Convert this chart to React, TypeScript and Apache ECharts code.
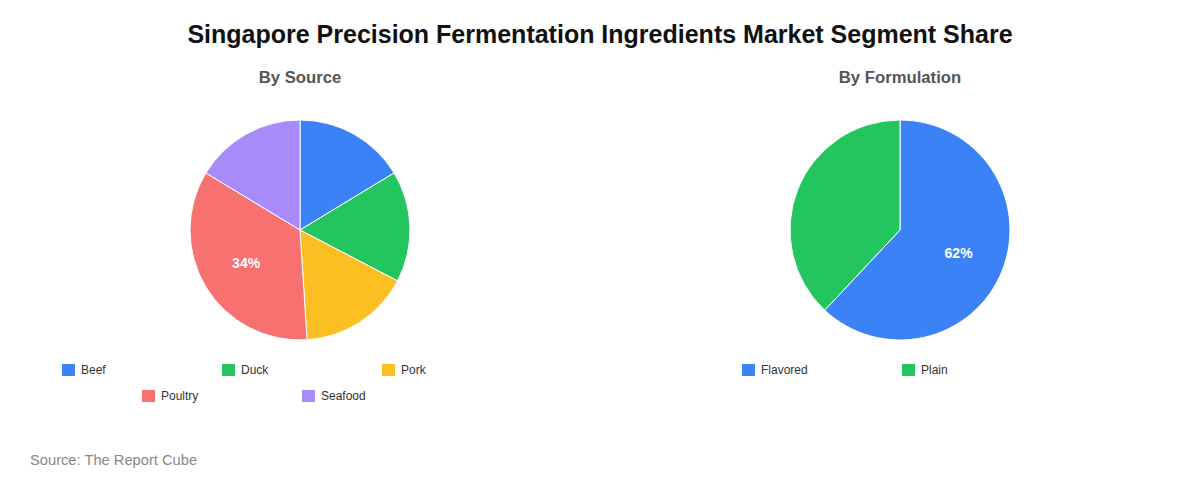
import { useEffect, useRef } from "react";
import * as echarts from "echarts";

// Segment shares (raw values, percent computed by ECharts)
const SOURCE_NAMES = ["Beef", "Duck", "Pork", "Poultry", "Seafood"];
const SOURCE_VALUES = [16, 16, 16, 34, 16];
const SOURCE_COLORS = ["#3b82f6", "#22c55e", "#fbbf24", "#f87171", "#a78bfa"];

const FORM_NAMES = ["Flavored", "Plain"];
const FORM_VALUES = [62, 38];
const FORM_COLORS = ["#3b82f6", "#22c55e"];

const TITLE = "Singapore Precision Fermentation Ingredients Market Segment Share";
const SOURCE_NOTE = "Source: The Report Cube";
const FONT = "'Liberation Sans', Arial, Helvetica, sans-serif";

const LEGEND_CELL = 160;
const LEGEND_PER_ROW = 3;

function toData(names: string[], values: number[], colors: string[]) {
  return names.map((name, i) => ({ name, value: values[i], itemStyle: { color: colors[i] } }));
}

function pieSeries(center: number[], names: string[], values: number[], colors: string[]) {
  const max = Math.max(...values);
  const data = toData(names, values, colors);
  return [
    {
      type: "pie",
      center,
      radius: 110,
      startAngle: 90,
      clockwise: true,
      data,
      label: { show: false },
      labelLine: { show: false },
      itemStyle: { borderColor: "#ffffff", borderWidth: 1 },
      emphasis: { scale: false },
    },
    {
      // transparent overlay only used to place the inside label a bit further out
      type: "pie",
      center,
      radius: 120,
      startAngle: 90,
      clockwise: true,
      silent: true,
      legendHoverLink: false,
      data: data.map((d) => ({ ...d, itemStyle: { color: "transparent" } })),
      itemStyle: { color: "transparent", borderWidth: 0 },
      label: {
        show: true,
        position: "inside",
        fontFamily: FONT,
        fontSize: 14,
        fontWeight: "bold",
        color: "#ffffff",
        formatter: (p: any) => (p.value === max ? `${p.value}%` : ""),
      },
      labelLine: { show: false },
      emphasis: { disabled: true },
    },
  ];
}

// one legend per item, laid out in centred rows of fixed-width cells
function legends(centerX: number, top: number, names: string[]) {
  const out: any[] = [];
  for (let i = 0; i < names.length; i++) {
    const row = Math.floor(i / LEGEND_PER_ROW);
    const col = i % LEGEND_PER_ROW;
    const inRow = Math.min(LEGEND_PER_ROW, names.length - row * LEGEND_PER_ROW);
    const left = centerX - (inRow * LEGEND_CELL) / 2 + col * LEGEND_CELL;
    out.push({
      left,
      top: top + row * 26,
      padding: 0,
      itemWidth: 15,
      itemHeight: 14,
      icon: "rect",
      selectedMode: false,
      data: [names[i]],
      textStyle: { fontFamily: FONT, fontSize: 12, color: "#333333" },
    });
  }
  return out;
}

export default function App() {
  const chartRef = useRef<HTMLDivElement>(null);

  useEffect(() => {
    if (!chartRef.current) return;
    const chart = echarts.init(chartRef.current, undefined, { renderer: "svg" });

    const option: any = {
      animation: false,
      backgroundColor: "#ffffff",
      textStyle: { fontFamily: FONT },
      graphic: [
        {
          type: "text",
          x: 600,
          y: 34,
          style: {
            text: TITLE,
            fontFamily: FONT,
            fontSize: 25,
            fontWeight: "bold",
            fill: "#111111",
            textAlign: "center",
            textVerticalAlign: "middle",
          },
        },
        {
          type: "text",
          x: 300,
          y: 77,
          style: {
            text: "By Source",
            fontFamily: FONT,
            fontSize: 16.7,
            fontWeight: "bold",
            fill: "#555555",
            textAlign: "center",
            textVerticalAlign: "middle",
          },
        },
        {
          type: "text",
          x: 900,
          y: 77,
          style: {
            text: "By Formulation",
            fontFamily: FONT,
            fontSize: 16.7,
            fontWeight: "bold",
            fill: "#555555",
            textAlign: "center",
            textVerticalAlign: "middle",
          },
        },
        {
          type: "text",
          x: 30,
          y: 460,
          style: {
            text: SOURCE_NOTE,
            fontFamily: FONT,
            fontSize: 14.7,
            fill: "#888888",
            textAlign: "left",
            textVerticalAlign: "middle",
          },
        },
      ],
      legend: [...legends(300, 362, SOURCE_NAMES), ...legends(900, 362, FORM_NAMES)],
      series: [
        ...pieSeries([300, 230], SOURCE_NAMES, SOURCE_VALUES, SOURCE_COLORS),
        ...pieSeries([900, 230], FORM_NAMES, FORM_VALUES, FORM_COLORS),
      ],
    };

    chart.setOption(option);

    return () => {
      chart.dispose();
    };
  }, []);

  return (
    <div>
      <style>{`body { margin: 0; }`}</style>
      <div ref={chartRef} style={{ width: "1200px", height: "480px" }} />
    </div>
  );
}
